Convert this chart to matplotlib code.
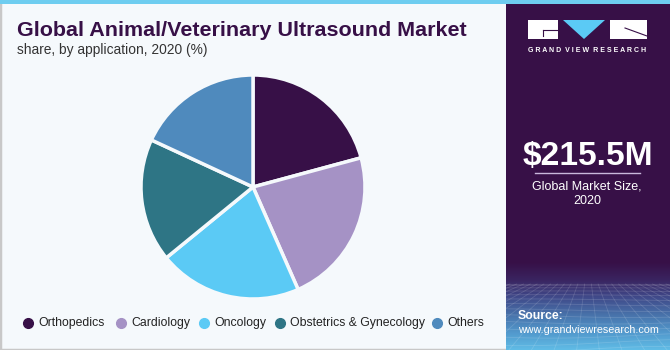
import matplotlib
matplotlib.use("Agg")
import matplotlib.pyplot as plt
import numpy as np
from matplotlib.patches import Rectangle, Polygon
from matplotlib.colors import LinearSegmentedColormap

categories = ["Orthopedics", "Cardiology", "Oncology", "Obstetrics & Gynecology", "Others"]
shares = [20.8, 22.6, 20.7, 17.8, 18.1]
colors = ["#371047", "#a592c5", "#5bcaf5", "#2e7585", "#4f8abd"]

title = "Global Animal/Veterinary Ultrasound Market"
subtitle = "share, by application, 2020 (%)"
market_value = "$215.5M"
market_label_1 = "Global Market Size,"
market_label_2 = "2020"

W, H = 670, 350
fig = plt.figure(figsize=(W / 100, H / 100), dpi=100)
fig.patch.set_facecolor("#f5f9fc")
renderer = fig.canvas.get_renderer()


def fx(x):
    return x / W


def fy(y):
    return 1 - y / H


def fit_text(x, y, s, width_px, fontsize, **kw):
    t = fig.text(x, y, s, fontsize=fontsize, **kw)
    w = t.get_window_extent(renderer=renderer).width
    if w > 0:
        t.set_fontsize(fontsize * width_px / w)
    return t


# borders
fig.patches.append(Rectangle((0, 0), 1, 1, transform=fig.transFigure, fill=False,
                             edgecolor="#c8c8c8", linewidth=2.5, zorder=0))
# right panel
fig.patches.append(Rectangle((fx(506), 0), fx(670 - 506), 1, transform=fig.transFigure,
                             facecolor="#371047", edgecolor="none", zorder=1))
# top blue line
fig.patches.append(Rectangle((0, fy(4)), 1, 4 / H, transform=fig.transFigure,
                             facecolor="#6ecdf0", edgecolor="none", zorder=3))

# gradient bottom of right panel
gax = fig.add_axes([fx(506), 0, fx(670 - 506), fy(262)], zorder=2)
cmap = LinearSegmentedColormap.from_list(
    "g", ["#371047", "#3a2460", "#404a8a", "#4872aa", "#5298cc", "#60bce6"])
grad = np.linspace(0, 1, 200).reshape(-1, 1)
gax.imshow(grad, aspect="auto", cmap=cmap, extent=[0, 1, 0, 1], origin="upper")
for v in np.linspace(-1.5, 2.5, 30):
    gax.plot([0.5 + (v - 0.5) * 0.3, v], [0.75, 0.0], color="white", alpha=0.14, lw=0.6)
for t in np.linspace(0, 1, 14) ** 1.5:
    yy = 0.75 * (1 - t)
    gax.plot(np.linspace(0, 1, 20), yy + 0.04 * np.sin(np.linspace(0, 3, 20) + t * 5) * t,
             color="white", alpha=0.14, lw=0.6)
gax.set_xlim(0, 1)
gax.set_ylim(0, 1)
gax.axis("off")

# title texts
fit_text(fx(17), fy(30), title, 450, 15, fontweight="bold", color="#371047",
         ha="left", va="center", family="Liberation Sans")
fit_text(fx(17), fy(50), subtitle, 190, 10, color="#333333", ha="left", va="center",
         family="Liberation Sans")

# pie
r = 112
cx, cy = 253, 187
ax = fig.add_axes([fx(cx - r), fy(cy + r), 2 * r / W, 2 * r / H])
ax.pie(shares, colors=colors, startangle=90, counterclock=False,
       wedgeprops=dict(edgecolor="#f5f9fc", linewidth=2.5), radius=1.0)
ax.set_xlim(-1.0, 1.0)
ax.set_ylim(-1.0, 1.0)
ax.set_aspect("equal")
ax.axis("off")

# legend
leg_x = [28, 121, 204, 280, 437]
for xm, cat, col in zip(leg_x, categories, colors):
    fig.lines.append(plt.Line2D([fx(xm)], [fy(323)], marker="o", markersize=7,
                                color=col, transform=fig.transFigure, linestyle="none"))
    fig.text(fx(xm + 10), fy(323), cat, fontsize=8.8, color="#222222", ha="left",
             va="center", family="Liberation Sans")

# logo
fig.patches.append(Rectangle((fx(528), fy(39)), fx(558 - 528), 19 / H, transform=fig.transFigure,
                             facecolor="white", edgecolor="none", zorder=5))
fig.patches.append(Rectangle((fx(610), fy(39)), fx(647 - 610), 19 / H, transform=fig.transFigure,
                             facecolor="white", edgecolor="none", zorder=5))
fig.patches.append(Polygon([(fx(563), fy(20)), (fx(605), fy(20)), (fx(584), fy(39))],
                           closed=True, transform=fig.transFigure, facecolor="#5bcaf5",
                           edgecolor="none", zorder=5))
fig.lines.append(plt.Line2D([fx(543), fx(558)], [fy(30), fy(30)], color="#371047", lw=0.8,
                            transform=fig.transFigure, zorder=6))
fig.lines.append(plt.Line2D([fx(543), fx(543)], [fy(30), fy(36)], color="#371047", lw=0.8,
                            transform=fig.transFigure, zorder=6))
fig.lines.append(plt.Line2D([fx(625), fx(647)], [fy(28), fy(36)], color="#371047", lw=0.8,
                            transform=fig.transFigure, zorder=6))
fit_text(fx(587.5), fy(51), "G R A N D  V I E W  R E S E A R C H", 119, 5,
         fontweight="bold", color="white", ha="center", va="center", zorder=6,
         family="Liberation Sans")

fit_text(fx(588), fy(156), market_value, 131, 22, fontweight="bold", color="white",
         ha="center", va="center", zorder=6, family="Liberation Sans")
fig.lines.append(plt.Line2D([fx(535), fx(640)], [fy(173), fy(173)], color="#c9b8dc", lw=1,
                            transform=fig.transFigure, zorder=6))
fig.text(fx(587), fy(186), market_label_1, fontsize=9, color="white", ha="center",
         va="center", zorder=6, family="Liberation Sans")
fig.text(fx(587), fy(201), market_label_2, fontsize=9, color="white", ha="center",
         va="center", zorder=6, family="Liberation Sans")

fig.text(fx(518), fy(316), "Source:", fontsize=8.8, fontweight="bold", color="white",
         ha="left", va="center", zorder=6, family="Liberation Sans")
fit_text(fx(518), fy(330), "www.grandviewresearch.com", 139, 8.5, color="white",
         ha="left", va="center", zorder=6, family="Liberation Sans")

fig.savefig("out.png", dpi=100, facecolor=fig.get_facecolor())
